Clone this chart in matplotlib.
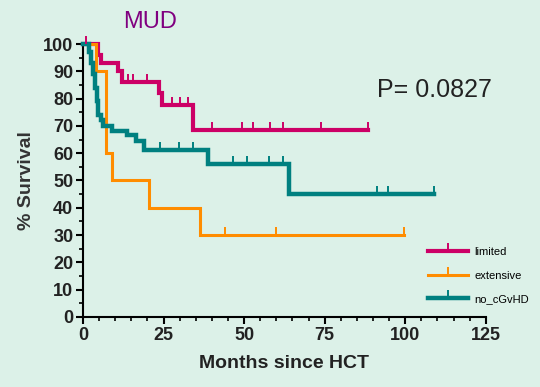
import numpy as np
import matplotlib
matplotlib.use("Agg")
import matplotlib.pyplot as plt
from matplotlib.ticker import MultipleLocator

plt.rcParams['font.family'] = ['Liberation Sans', 'DejaVu Sans']

# Kaplan-Meier steps (months, % survival)
limited_t = [0, 4.6, 5.5, 11, 12, 23.7, 24.4, 34.2, 88.4]
limited_s = [100, 96, 93, 90, 86, 82, 77.5, 68.5, 68.5]
limited_cens = [0.8, 14, 15.5, 20, 27.5, 30, 32.7, 40, 49.2, 52.8, 58, 62, 74, 88.4]

extensive_t = [0, 3.9, 7.0, 8.9, 20.5, 36.3, 99.6]
extensive_s = [100, 90, 60, 50, 40, 30, 30]
extensive_cens = [44, 60, 99.6]

nocgvhd_t = [0, 1.8, 2.4, 3.0, 3.6, 4.2, 4.8, 5.5, 6.2, 9.0, 13.5, 16.5, 18.8, 38.8, 63.9, 109]
nocgvhd_s = [100, 97, 93, 89, 84, 79, 74, 72, 70, 68, 66.5, 64.5, 61, 56, 45, 45]
nocgvhd_cens = [23.9, 29.9, 34.2, 46.6, 51, 57.8, 62.1, 91.3, 94.7, 109]

labels = ["limited", "extensive", "no_cGvHD"]
colors = ["#cc0066", "#ff8c00", "#008080"]
widths = [3.0, 2.2, 3.2]

bg = "#dcf1e8"
fig = plt.figure(figsize=(5.4, 3.87), dpi=100, facecolor=bg)
ax = fig.add_axes([0.1537, 0.1809, 0.746, 0.7054], facecolor=bg)

groups = [(limited_t, limited_s, limited_cens),
          (extensive_t, extensive_s, extensive_cens),
          (nocgvhd_t, nocgvhd_s, nocgvhd_cens)]

for (t, s, c), lab, col, lw in zip(groups, labels, colors, widths):
    ax.step(t, s, where='post', color=col, lw=lw, clip_on=False, zorder=3,
            solid_joinstyle='miter')
    # censor marks sit on the step curve
    idx = np.searchsorted(t, c, side='right') - 1
    ys = np.array(s)[idx]
    ax.plot(c, ys, ls='none', marker=2, ms=5.5, mew=1.4, color=col,
            clip_on=False, zorder=4)
    ax.plot([], [], color=col, lw=lw, marker=2, ms=6, mew=1.4, label=lab)

ax.set_xlim(0, 125)
ax.set_ylim(0, 100)
ax.xaxis.set_major_locator(MultipleLocator(25))
ax.xaxis.set_minor_locator(MultipleLocator(5))
ax.yaxis.set_major_locator(MultipleLocator(10))
ax.yaxis.set_minor_locator(MultipleLocator(5))

for side in ['top', 'right']:
    ax.spines[side].set_visible(False)
for side in ['left', 'bottom']:
    ax.spines[side].set_linewidth(1.5)

ax.tick_params(which='major', length=5, width=1.5, direction='out', labelsize=13, pad=2)
ax.tick_params(which='minor', length=3, width=1.2, direction='out')
for lbl in ax.get_xticklabels() + ax.get_yticklabels():
    lbl.set_fontweight('bold')
    lbl.set_color('#222222')

ax.set_xlabel("Months since HCT", fontsize=14, fontweight='bold', color='#222222', labelpad=8)
ax.set_ylabel("% Survival", fontsize=14, fontweight='bold', color='#333333', labelpad=6)

fig.text(0.278, 0.943, "MUD", fontsize=17, color='#800080', ha='center', va='center')
fig.text(0.804, 0.768, "P= 0.0827", fontsize=18, color='#222222', ha='center', va='center')

leg = ax.legend(loc='upper left', bbox_to_anchor=(0.856, 0.255), frameon=False,
                fontsize=8, handlelength=3.6, handletextpad=0.6, labelspacing=1.2,
                borderpad=0, borderaxespad=0)

fig.savefig("out.png", dpi=100, facecolor=bg)
